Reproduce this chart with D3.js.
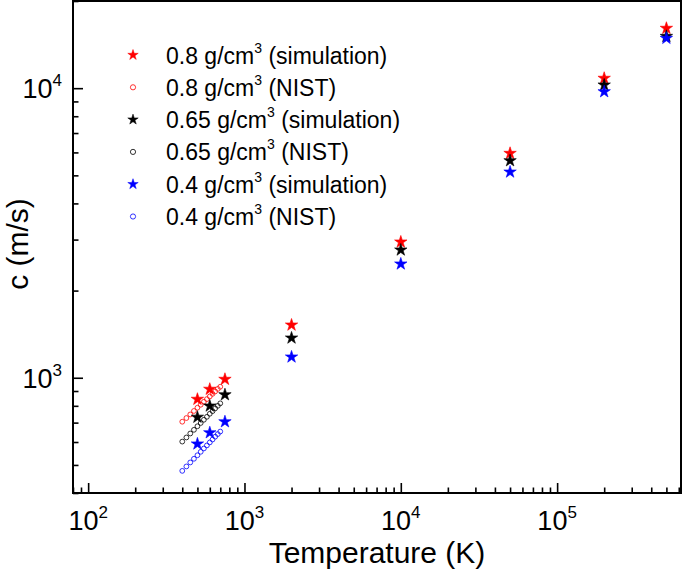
<!DOCTYPE html>
<html>
<head>
<meta charset="utf-8">
<script src="https://cdn.jsdelivr.net/npm/d3@7"></script>
<style>
  html, body { margin: 0; padding: 0; background: #fff; }
  svg { display: block; font-family: "Liberation Sans", Arial, sans-serif; }
</style>
</head>
<body>
<svg id="chart" width="685" height="575"></svg>
<script>
// ---- data ----
const simT = [500, 600, 750, 2000, 10000, 50000, 200000, 500000];
const sim08 = [843, 913, 988, 1521, 2944, 5957, 10820, 16100];
const sim065 = [731, 799, 874, 1372, 2762, 5619, 10257, 15100];
const sim04 = [591, 646, 705, 1180, 2472, 5135, 9725, 14870];

const nistT = [400, 425, 450, 475, 500, 525, 550, 575, 600, 625, 650, 675, 700];
const nist08 = [705, 726, 747, 768, 788, 807, 826, 844, 862, 880, 897, 915, 931];
const nist065 = [602, 622, 642, 661, 680, 698, 716, 733, 751, 767, 784, 800, 816];
const nist04 = [477, 494, 510, 525, 540, 555, 570, 584, 598, 612, 626, 639, 652];

const xMajor = [100, 1000, 10000, 100000];
const xMajorExp = ["2", "3", "4", "5"];
const yMajor = [1000, 10000];
const yMajorExp = ["3", "4"];

const legendLabels = [
  ["0.8 g/cm", "3", " (simulation)"],
  ["0.8 g/cm", "3", " (NIST)"],
  ["0.65 g/cm", "3", " (simulation)"],
  ["0.65 g/cm", "3", " (NIST)"],
  ["0.4 g/cm", "3", " (simulation)"],
  ["0.4 g/cm", "3", " (NIST)"]
];
const colors = ["#ff0000", "#000000", "#0000ff"];

// ---- layout ----
const pL = 73, pR = 681, pT = 1, pB = 493;

const svg = d3.select("#chart");
const x = d3.scaleLog().domain([80, 620000]).range([pL, pR]);
const y = d3.scaleLog().domain([400, 20000]).range([pB, pT]);

function minorTicks(scale) {
  const [a, b] = scale.domain();
  const out = [];
  for (let e = Math.floor(Math.log10(a)); e <= Math.ceil(Math.log10(b)); e++) {
    for (let m = 2; m <= 9; m++) {
      const v = m * Math.pow(10, e);
      if (v >= a && v <= b) out.push(v);
    }
  }
  return out;
}

const gx = svg.append("g").attr("transform", `translate(0,${pB})`);
gx.call(d3.axisBottom(x).tickValues(xMajor).tickSize(-10).tickFormat(""));
gx.append("g").call(d3.axisBottom(x).tickValues(minorTicks(x)).tickSize(-5.5).tickFormat(""));
const gy = svg.append("g").attr("transform", `translate(${pL},0)`);
gy.call(d3.axisLeft(y).tickValues(yMajor).tickSize(-10).tickFormat(""));
gy.append("g").call(d3.axisLeft(y).tickValues(minorTicks(y)).tickSize(-5.5).tickFormat(""));
svg.selectAll(".domain").remove();
svg.selectAll(".tick line").attr("stroke", "#000").attr("stroke-width", 1.6);

svg.append("rect")
  .attr("x", pL).attr("y", pT)
  .attr("width", pR - pL).attr("height", pB - pT)
  .attr("fill", "none").attr("stroke", "#000").attr("stroke-width", 2);

xMajor.forEach((v, i) => {
  const t = svg.append("text")
    .attr("x", x(v)).attr("y", 530)
    .attr("text-anchor", "middle")
    .attr("font-size", 27).attr("fill", "#000");
  t.append("tspan").text("10");
  t.append("tspan").attr("dy", -12).attr("font-size", 17).text(xMajorExp[i]);
});
yMajor.forEach((v, i) => {
  const t = svg.append("text")
    .attr("x", 62).attr("y", y(v) + 10)
    .attr("text-anchor", "end")
    .attr("font-size", 27).attr("fill", "#000");
  t.append("tspan").text("10");
  t.append("tspan").attr("dy", -12).attr("font-size", 17).text(yMajorExp[i]);
});

svg.append("text")
  .attr("x", (pL + pR) / 2).attr("y", 563)
  .attr("text-anchor", "middle").attr("font-size", 30)
  .text("Temperature (K)");
svg.append("text")
  .attr("transform", `translate(28,${(pT + pB) / 2 - 3}) rotate(-90)`)
  .attr("text-anchor", "middle").attr("font-size", 30)
  .text("c (m/s)");

const plot = svg.append("g");
const nistSets = [nist08, nist065, nist04];
const simSets = [sim08, sim065, sim04];
const star = d3.symbol().type(d3.symbolStar).size(48);

nistSets.forEach((vals, k) => {
  plot.append("g").selectAll("circle")
    .data(nistT.map((t, i) => [t, vals[i]]))
    .join("circle")
    .attr("cx", d => x(d[0])).attr("cy", d => y(d[1]))
    .attr("r", 2.4)
    .attr("fill", "none").attr("stroke", colors[k]).attr("stroke-width", 0.8);
});
simSets.forEach((vals, k) => {
  plot.append("g").selectAll("path")
    .data(simT.map((t, i) => [t, vals[i]]))
    .join("path")
    .attr("d", star)
    .attr("transform", d => `translate(${x(d[0])},${y(d[1])})`)
    .attr("fill", colors[k])
    .attr("stroke", colors[k]).attr("stroke-width", 0.6)
    .attr("stroke-linejoin", "round");
});

const legStar = d3.symbol().type(d3.symbolStar).size(34);
const legY0 = 55, legDY = 32.3;
legendLabels.forEach((lab, i) => {
  const cy = legY0 + i * legDY;
  const col = colors[Math.floor(i / 2)];
  if (i % 2 === 0) {
    svg.append("path").attr("d", legStar)
      .attr("transform", `translate(133,${cy})`).attr("fill", col)
      .attr("stroke", col).attr("stroke-width", 0.5);
  } else {
    svg.append("circle").attr("cx", 133).attr("cy", cy).attr("r", 2.6)
      .attr("fill", "none").attr("stroke", col).attr("stroke-width", 0.8);
  }
  const t = svg.append("text").attr("x", 166).attr("y", cy + 8.5)
    .attr("font-size", 23).attr("fill", "#000");
  t.append("tspan").text(lab[0]);
  t.append("tspan").attr("dy", -11).attr("font-size", 14).text(lab[1]);
  t.append("tspan").attr("dy", 11).text(lab[2]);
});
</script>
</body>
</html>
